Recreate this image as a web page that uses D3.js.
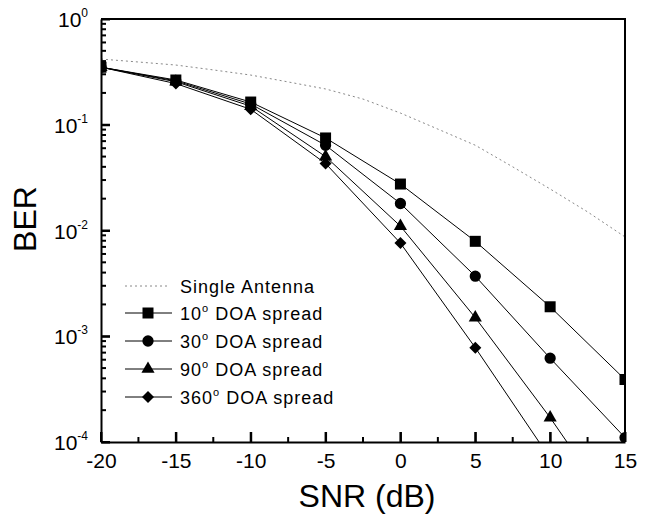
<!DOCTYPE html>
<html>
<head>
<meta charset="utf-8">
<script src="https://cdn.jsdelivr.net/npm/d3@7"></script>
<style>
    body { margin: 0; background: #fff; }
    text { font-family: "Liberation Sans", Arial, sans-serif; fill: #000; }
</style>
</head>
<body>
<svg id="chart" width="647" height="515"></svg>
<script>
// values
const snr = [-20, -15, -10, -5, 0, 5, 10, 15];
const ber10 = [0.35, 0.265, 0.164, 0.075, 0.0275, 0.0079, 0.0019, 0.00039];
const ber30 = [0.35, 0.26, 0.157, 0.064, 0.018, 0.0037, 0.00062, 0.00011];
const ber90 = [0.35, 0.255, 0.15, 0.05, 0.011, 0.0015, 0.00017, 0.000016];
const ber360 = [0.35, 0.245, 0.14, 0.043, 0.0076, 0.00078, 0.00007];
const singleSnr = [-20, -17.5, -15, -12.5, -10, -7.5, -5, -2.5, 0, 2.5, 5, 7.5, 10, 12.5, 15];
const singleBer = [0.418, 0.392, 0.367, 0.33, 0.295, 0.254, 0.218, 0.175, 0.129, 0.091, 0.064, 0.04, 0.0247, 0.015, 0.0087];

const xMajor = [-20, -15, -10, -5, 0, 5, 10, 15];
const xMinor = [-17.5, -12.5, -7.5, -2.5, 2.5, 7.5, 12.5];
const yMajor = [1, 1e-1, 1e-2, 1e-3, 1e-4];
const yExp = ["0", "-1", "-2", "-3", "-4"];

const series = [
    { name: "10", values: ber10, shape: "square" },
    { name: "30", values: ber30, shape: "circle" },
    { name: "90", values: ber90, shape: "triangle" },
    { name: "360", values: ber360, shape: "diamond" }
];

const svg = d3.select("#chart");
const pLeft = 101, pRight = 625, pTop = 19, pBottom = 442;

const x = d3.scaleLinear().domain([-20, 15]).range([pLeft, pRight]);
const y = d3.scaleLog().domain([1e-4, 1]).range([pBottom, pTop]);

const yMinor = [];
[1e-4, 1e-3, 1e-2, 1e-1].forEach(d => {
    for (let k = 2; k <= 9; k++) yMinor.push(d * k);
});

svg.append("clipPath").attr("id", "plotclip")
    .append("rect")
    .attr("x", pLeft).attr("y", pTop)
    .attr("width", pRight - pLeft).attr("height", pBottom - pTop);

const plot = svg.append("g").attr("clip-path", "url(#plotclip)");

// single antenna, dotted
plot.append("path")
    .datum(singleSnr.map((s, i) => [s, singleBer[i]]))
    .attr("fill", "none")
    .attr("stroke", "#888")
    .attr("stroke-width", 1)
    .attr("stroke-dasharray", "2,3")
    .attr("d", d3.line().x(d => x(d[0])).y(d => y(d[1])));

// square-ish diamond (d3's own is too narrow)
const wideDiamond = {
    draw(ctx, size) {
        const r = Math.sqrt(size / 2);
        ctx.moveTo(0, -r);
        ctx.lineTo(r, 0);
        ctx.lineTo(0, r);
        ctx.lineTo(-r, 0);
        ctx.closePath();
    }
};

const symbols = {
    square: d3.symbol().type(d3.symbolSquare).size(121),
    circle: d3.symbol().type(d3.symbolCircle).size(100),
    triangle: d3.symbol().type(d3.symbolTriangle).size(75),
    diamond: d3.symbol().type(wideDiamond).size(72)
};

series.forEach(s => {
    const pts = s.values.map((v, i) => [snr[i], v]);
    plot.append("path")
        .datum(pts)
        .attr("fill", "none")
        .attr("stroke", "#000")
        .attr("stroke-width", 1)
        .attr("d", d3.line().x(d => x(d[0])).y(d => y(d[1])));
    plot.selectAll(null)
        .data(pts)
        .enter()
        .append("path")
        .attr("d", symbols[s.shape]())
        .attr("transform", d => `translate(${x(d[0])},${y(d[1])})`)
        .attr("fill", "#000");
});

// axes, ticks pointing inward
const xAxis = svg.append("g")
    .attr("transform", `translate(0,${pBottom})`)
    .call(d3.axisBottom(x).tickValues(xMajor).tickSize(-10).tickSizeOuter(0).tickPadding(11)
        .tickFormat(d => String(d)));
xAxis.selectAll("text").attr("font-size", 21);

svg.append("g")
    .attr("transform", `translate(${pLeft},0)`)
    .call(d3.axisLeft(y).tickValues(yMajor).tickSize(-9).tickSizeOuter(0).tickFormat(""));

svg.selectAll(".tick line, .domain")
    .attr("stroke", "#000")
    .attr("stroke-width", 2);

// inward tick marks, drawn from the same scales
const ticks = svg.append("g").attr("stroke", "#000").attr("stroke-width", 2);
ticks.selectAll(".xt")
    .data(xMajor.map(v => [v, 10]).concat(xMinor.map(v => [v, 5])))
    .enter().append("line")
    .attr("x1", d => x(d[0])).attr("x2", d => x(d[0]))
    .attr("y1", pBottom).attr("y2", d => pBottom - d[1]);
ticks.selectAll(".yt")
    .data(yMajor.map(v => [v, 9]).concat(yMinor.map(v => [v, 5])))
    .enter().append("line")
    .attr("y1", d => y(d[0])).attr("y2", d => y(d[0]))
    .attr("x1", pLeft).attr("x2", d => pLeft + d[1]);

// y labels with exponents
yMajor.forEach((v, i) => {
    const t = svg.append("text")
        .attr("x", 88)
        .attr("y", y(v) + 8)
        .attr("text-anchor", "end")
        .attr("font-size", 21);
    t.append("tspan").text("10");
    t.append("tspan").attr("font-size", 12).attr("dy", -10).text(yExp[i]);
});

// frame top and right
svg.append("path")
    .attr("d", `M${pLeft},${pTop}H${pRight}V${pBottom}`)
    .attr("fill", "none")
    .attr("stroke", "#000")
    .attr("stroke-width", 2);

// axis titles
svg.append("text")
    .attr("x", 367)
    .attr("y", 507)
    .attr("text-anchor", "middle")
    .attr("font-size", 32)
    .text("SNR (dB)");

svg.append("text")
    .attr("transform", "translate(36,219) rotate(-90)")
    .attr("text-anchor", "middle")
    .attr("font-size", 32)
    .text("BER");

// legend
const legendY = [286, 313, 341, 369, 397];
const legend = svg.append("g");

legend.append("line")
    .attr("x1", 125).attr("x2", 170)
    .attr("y1", legendY[0]).attr("y2", legendY[0])
    .attr("stroke", "#888")
    .attr("stroke-dasharray", "2,3");
legend.append("text")
    .attr("x", 180).attr("y", legendY[0] + 7)
    .attr("font-size", 18)
    .attr("letter-spacing", 1)
    .text("Single Antenna");

series.forEach((s, i) => {
    const ly = legendY[i + 1];
    legend.append("line")
        .attr("x1", 125).attr("x2", 172)
        .attr("y1", ly).attr("y2", ly)
        .attr("stroke", "#000");
    legend.append("path")
        .attr("d", symbols[s.shape]())
        .attr("transform", `translate(148,${ly})`);
    const t = legend.append("text")
        .attr("x", 180).attr("y", ly + 7)
        .attr("font-size", 18)
        .attr("letter-spacing", 1);
    t.append("tspan").text(s.name);
    t.append("tspan").attr("font-size", 11).attr("dy", -8).text("o");
    t.append("tspan").attr("dy", 8).text(" DOA spread");
});
</script>
</body>
</html>
